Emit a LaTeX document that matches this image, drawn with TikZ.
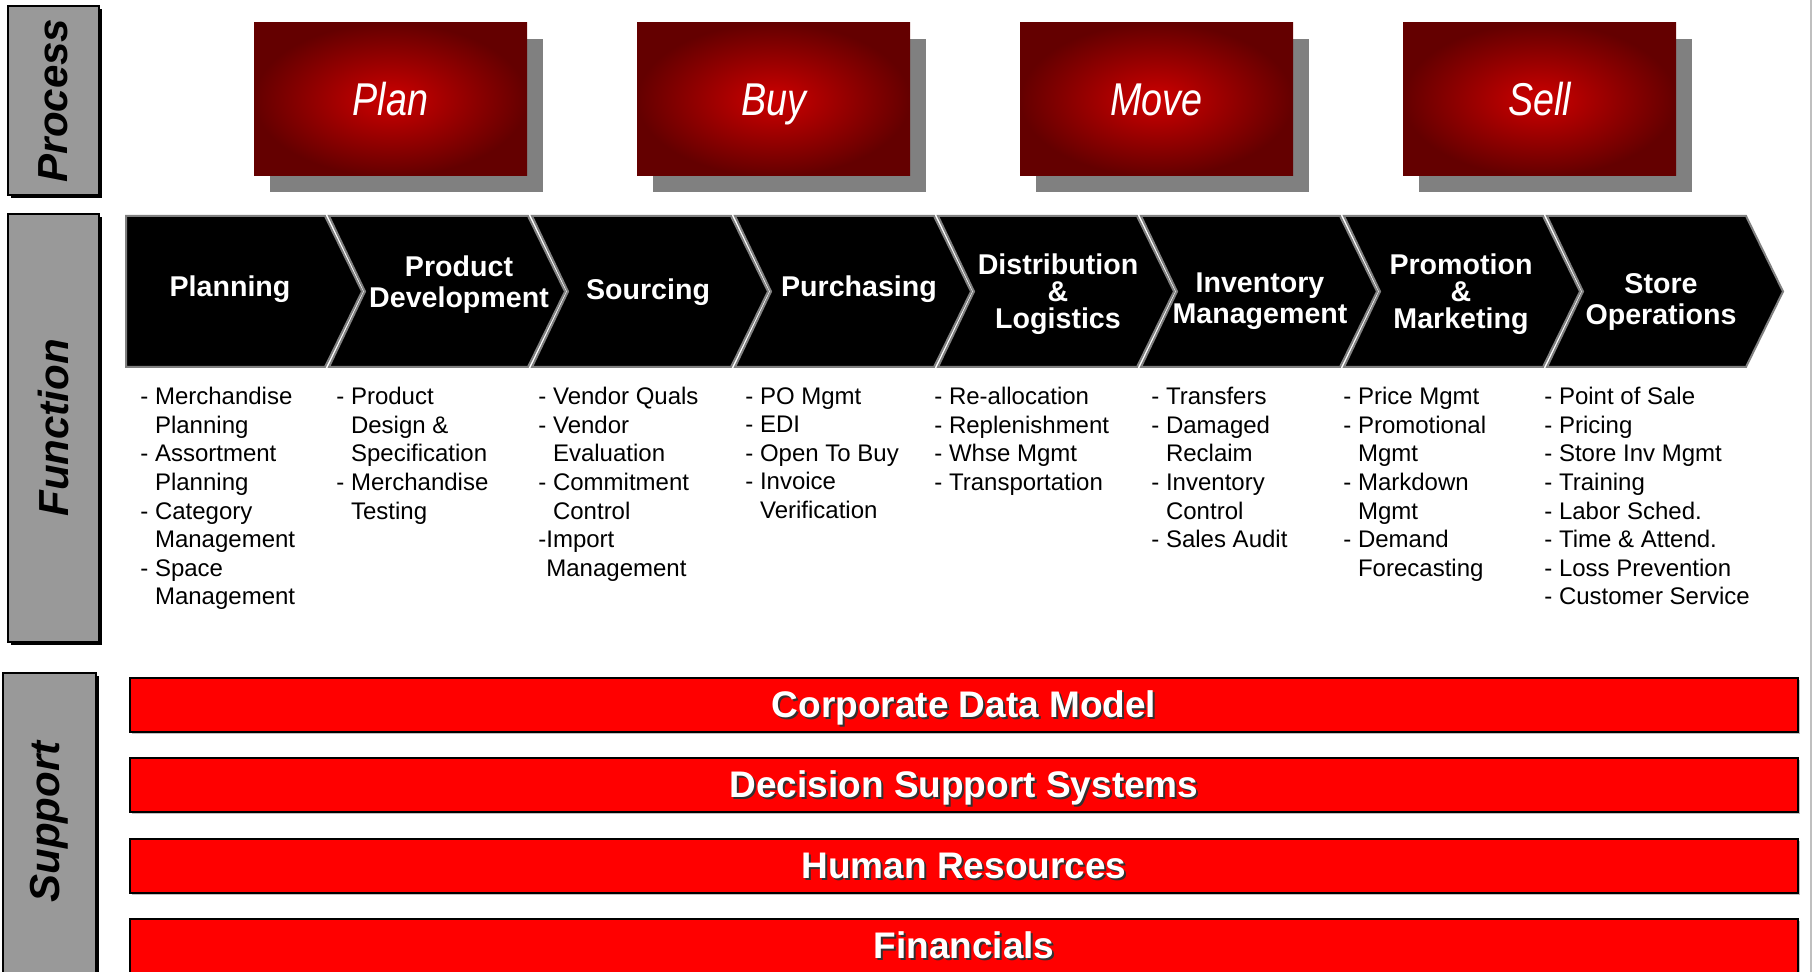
\documentclass[tikz,border=0pt]{standalone}
\usepackage{fontspec}
\setmainfont{Liberation Sans}
\newfontfamily\narrowfont{Liberation Sans}[FakeStretch=0.82]
\usetikzlibrary{shadows}

\definecolor{boxred}{RGB}{205,0,0}
\definecolor{boxdark}{RGB}{100,0,0}
\definecolor{shadowgray}{RGB}{128,128,128}
\definecolor{sidegray}{RGB}{153,153,153}
\definecolor{barred}{RGB}{255,0,0}
\definecolor{textshade}{RGB}{50,50,50}

\newcommand{\shadetext}[1]{\rlap{\kern1pt\raisebox{-1pt}{\color{textshade}#1}}#1}

\tikzset{
  sidebox/.style={fill=sidegray, draw=black, line width=1.2pt},
  sidelabel/.style={rotate=90, font=\bfseries\itshape\fontsize{21}{24}\selectfont},
  processbox/.style={rectangle, inner color=boxred, outer color=boxdark,
    minimum width=136.5pt, minimum height=76.5pt, text=white,
    text height=16pt, text depth=0pt,
    font=\narrowfont\itshape\fontsize{23}{27}\selectfont,
    drop shadow={shadow xshift=8pt, shadow yshift=-8pt, fill=shadowgray, opacity=1}},
  chev/.style={fill=black, draw=shadowgray, line width=1pt},
  chevlabel/.style={text=white, align=center, font=\bfseries\fontsize{14.3}{15.5}\selectfont},
  chevlabelthree/.style={chevlabel, font=\bfseries\fontsize{14.3}{13.5}\selectfont},
  items/.style={anchor=north west, inner sep=0pt, align=left, font=\fontsize{12}{14.3}\selectfont},
  supportbar/.style={fill=barred, draw=black, line width=1pt, minimum width=834pt,
    minimum height=27pt, inner sep=0pt, text=white, text height=16pt, text depth=3.5pt,
    font=\bfseries\fontsize{18.5}{20}\selectfont,
    drop shadow={shadow xshift=0.8pt, shadow yshift=-0.8pt, fill=black!25, opacity=1}}
}

\begin{document}
\begin{tikzpicture}[x=0.5pt, y=-0.5pt]
	\useasboundingbox (0,0) rectangle (1812,972);
	\clip (0,0) rectangle (1812,972);

	% Side boxes
	\fill[black] (11,9) rectangle (102,198);
	\draw[sidebox] (8,6) rectangle (99,195);
	\node[sidelabel] (process) at (53.5,100.5) {Process};
	\fill[black] (11,217) rectangle (102,645);
	\draw[sidebox] (8,214) rectangle (99,642);
	\node[sidelabel] (function) at (53.5,428) {Function};
	\fill[black] (6,676) rectangle (99,980);
	\draw[sidebox] (3,673) rectangle (96,980);
	\node[sidelabel] (support) at (49.5,822) {Support};

	% Process boxes
	\node[processbox] (plan) at (390.5,99.5) {Plan};
	\node[processbox] (buy) at (773.5,99.5) {Buy};
	\node[processbox] (move) at (1156.5,99.5) {Move};
	\node[processbox] (sell) at (1539.5,99.5) {Sell};

	% Draw Chevrons
	\draw[chev] (126,216) -- ++(199,0) -- ++(37,75.5) -- ++(-37,75.5) -- ++(-199,0) -- cycle;
	\draw[chev] (329,216) -- ++(199,0) -- ++(37,75.5) -- ++(-37,75.5) -- ++(-199,0) -- ++(36,-75.5) -- cycle;
	\draw[chev] (532,216) -- ++(199,0) -- ++(37,75.5) -- ++(-37,75.5) -- ++(-199,0) -- ++(36,-75.5) -- cycle;
	\draw[chev] (735,216) -- ++(199,0) -- ++(37,75.5) -- ++(-37,75.5) -- ++(-199,0) -- ++(36,-75.5) -- cycle;
	\draw[chev] (938,216) -- ++(199,0) -- ++(37,75.5) -- ++(-37,75.5) -- ++(-199,0) -- ++(36,-75.5) -- cycle;
	\draw[chev] (1141,216) -- ++(199,0) -- ++(37,75.5) -- ++(-37,75.5) -- ++(-199,0) -- ++(36,-75.5) -- cycle;
	\draw[chev] (1344,216) -- ++(199,0) -- ++(37,75.5) -- ++(-37,75.5) -- ++(-199,0) -- ++(36,-75.5) -- cycle;
	\draw[chev] (1547,216) -- ++(199,0) -- ++(37,75.5) -- ++(-37,75.5) -- ++(-199,0) -- ++(36,-75.5) -- cycle;

	% Label chevrons
	\node[chevlabel] (planning) at (230,289) {Planning};
	\node[chevlabel] (proddev) at (459,285) {Product\\Development};
	\node[chevlabel] (sourcing) at (648,292) {Sourcing};
	\node[chevlabel] (purchasing) at (859,289) {Purchasing};
	\node[chevlabelthree] (distribution) at (1058,294) {Distribution\\\&\\Logistics};
	\node[chevlabel] (inventory) at (1260,301.5) {Inventory\\Management};
	\node[chevlabelthree] (promotion) at (1461,294) {Promotion\\\&\\Marketing};
	\node[chevlabel] (storeops) at (1661,301.5) {Store\\Operations};

	% Function lists
	\node[items] (planlist) at (140,387) {- Merchandise\\\phantom{- }Planning\\- Assortment\\\phantom{- }Planning\\- Category\\\phantom{- }Management\\- Space\\\phantom{- }Management};
	\node[items] (devlist) at (336,387) {- Product\\\phantom{- }Design \&\\\phantom{- }Specification\\- Merchandise\\\phantom{- }Testing};
	\node[items] (sourcelist) at (538,387) {- Vendor Quals\\- Vendor\\\phantom{- }Evaluation\\- Commitment\\\phantom{- }Control\\-Import\\\phantom{-}Management};
	\node[items] (purchlist) at (745,387) {- PO Mgmt\\- EDI\\- Open To Buy\\- Invoice\\\phantom{- }Verification};
	\node[items] (distlist) at (934,387) {- Re-allocation\\- Replenishment\\- Whse Mgmt\\- Transportation};
	\node[items] (invlist) at (1151,387) {- Transfers\\- Damaged\\\phantom{- }Reclaim\\- Inventory\\\phantom{- }Control\\- Sales Audit};
	\node[items] (promolist) at (1343,387) {- Price Mgmt\\- Promotional\\\phantom{- }Mgmt\\- Markdown\\\phantom{- }Mgmt\\- Demand\\\phantom{- }Forecasting};
	\node[items] (storelist) at (1544,387) {- Point of Sale\\- Pricing\\- Store Inv Mgmt\\- Training\\- Labor Sched.\\- Time \& Attend.\\- Loss Prevention\\- Customer Service};

	% Support bars
	\node[supportbar] (datamodel) at (964,705) {\shadetext{Corporate Data Model}};
	\node[supportbar] (decision) at (964,785.5) {\shadetext{Decision Support Systems}};
	\node[supportbar] (humanres) at (964,866) {\shadetext{Human Resources}};
	\node[supportbar] (financials) at (964,946) {\shadetext{Financials}};

	% Right edge rule
	\draw[black!25, line width=1pt] (1810.5,0) -- (1810.5,972);
\end{tikzpicture}
\end{document}
